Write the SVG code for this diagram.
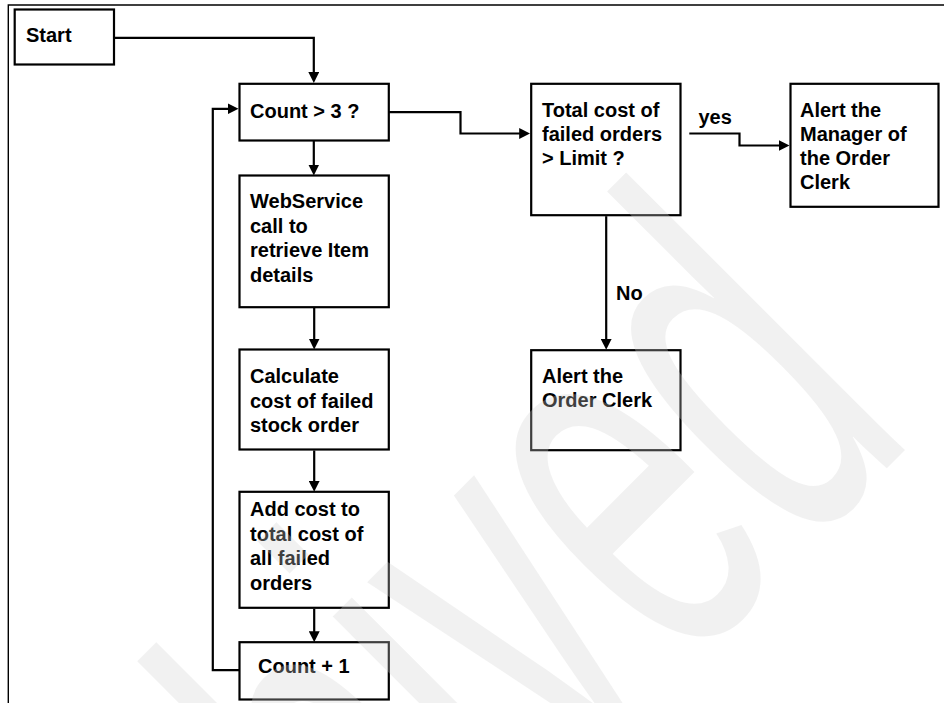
<svg xmlns="http://www.w3.org/2000/svg" width="944" height="703" viewBox="0 0 944 703">
<style>
.box{fill:#ffffff;stroke:#000000;stroke-width:2.2}
.lbl{font-family:"Liberation Sans",Arial,sans-serif;font-weight:bold;font-size:20px;fill:#000000}
.con{fill:none;stroke:#000000;stroke-width:2.2}
.frame{stroke:#000000;stroke-width:1.4;fill:none}
.wm{font-family:"Liberation Sans",Arial,sans-serif;font-size:543px;fill:#d0d0d0;fill-opacity:0.3}
</style>
<defs>
<marker id="arrow" viewBox="0 0 11 11" refX="5" refY="5.5" markerWidth="11" markerHeight="11" markerUnits="userSpaceOnUse" orient="auto">
<path d="M0,0 L11,5.5 L0,11 Z" fill="#000000"/>
</marker>
</defs>
<rect x="0" y="0" width="944" height="703" fill="#ffffff"/>
<g id="frame">
<path class="frame" d="M8.3,703 L8.3,5 L944,5"/>
</g>
<g id="connectors">
<path class="con" d="M114,37.8 L313.8,37.8 L313.8,77" marker-end="url(#arrow)"/>
<path class="con" d="M313.8,141 L313.8,169.5" marker-end="url(#arrow)"/>
<path class="con" d="M314.2,308 L314.2,343.5" marker-end="url(#arrow)"/>
<path class="con" d="M314.2,450.5 L314.2,485.8" marker-end="url(#arrow)"/>
<path class="con" d="M314.2,608.8 L314.2,636.2" marker-end="url(#arrow)"/>
<path class="con" d="M239.5,670.2 L212.8,670.2 L212.8,108.8 L232.5,108.8" marker-end="url(#arrow)"/>
<path class="con" d="M389,112.2 L460.5,112.2 L460.5,133.5 L524.2,133.5" marker-end="url(#arrow)"/>
<path class="con" d="M689.3,133.5 L739.5,133.5 L739.5,145.5 L783.5,145.5" marker-end="url(#arrow)"/>
<path class="con" d="M606.2,216.2 L606.2,343.8" marker-end="url(#arrow)"/>
</g>
<g id="node-start">
<rect class="box" x="14.7" y="9.5" width="99.3" height="55"/>
<text class="lbl" x="26" y="41.5">Start</text>
</g>
<g id="node-count-check">
<rect class="box" x="239.5" y="83.8" width="149.3" height="56.7"/>
<text class="lbl" x="250" y="118">Count &gt; 3 ?</text>
</g>
<g id="node-webservice">
<rect class="box" x="239.5" y="175.5" width="149.3" height="131.7"/>
<text class="lbl" x="250"><tspan x="250" y="208">WebService</tspan><tspan x="250" y="232.5">call to</tspan><tspan x="250" y="257">retrieve Item</tspan><tspan x="250" y="281.5">details</tspan></text>
</g>
<g id="node-calculate">
<rect class="box" x="239.5" y="349.5" width="149.3" height="100"/>
<text class="lbl"><tspan x="250" y="383">Calculate</tspan><tspan x="250" y="407.5">cost of failed</tspan><tspan x="250" y="432">stock order</tspan></text>
</g>
<g id="node-add">
<rect class="box" x="239.5" y="491.8" width="149.3" height="116"/>
<text class="lbl"><tspan x="250" y="515.5">Add cost to</tspan><tspan x="250" y="540.5">total cost of</tspan><tspan x="250" y="565">all failed</tspan><tspan x="250" y="589.5">orders</tspan></text>
</g>
<g id="node-increment">
<rect class="box" x="239.5" y="642.2" width="149.3" height="57.3"/>
<text class="lbl" x="258" y="673">Count + 1</text>
</g>
<g id="node-total-check">
<rect class="box" x="531.2" y="83.8" width="149.3" height="131.4"/>
<text class="lbl"><tspan x="542" y="116.5">Total cost of</tspan><tspan x="542" y="140.5">failed orders</tspan><tspan x="542" y="164.5">&gt; Limit ?</tspan></text>
</g>
<g id="node-alert-manager">
<rect class="box" x="790.5" y="83.8" width="148" height="123"/>
<text class="lbl"><tspan x="800" y="116.5">Alert the</tspan><tspan x="800" y="140.5">Manager of</tspan><tspan x="800" y="164.5">the Order</tspan><tspan x="800" y="188.5">Clerk</tspan></text>
</g>
<g id="node-alert-clerk">
<rect class="box" x="531.2" y="350.2" width="149.3" height="100"/>
<text class="lbl"><tspan x="542" y="383">Alert the</tspan><tspan x="542" y="407">Order Clerk</tspan></text>
</g>
<g id="edge-labels">
<text class="lbl" x="698.5" y="124">yes</text>
<text class="lbl" x="616" y="300">No</text>
</g>
<g id="watermark">
<text class="wm" transform="translate(75,1280) rotate(-45) scale(0.565,1)" x="0" y="0">Archived</text>
</g>
</svg>
